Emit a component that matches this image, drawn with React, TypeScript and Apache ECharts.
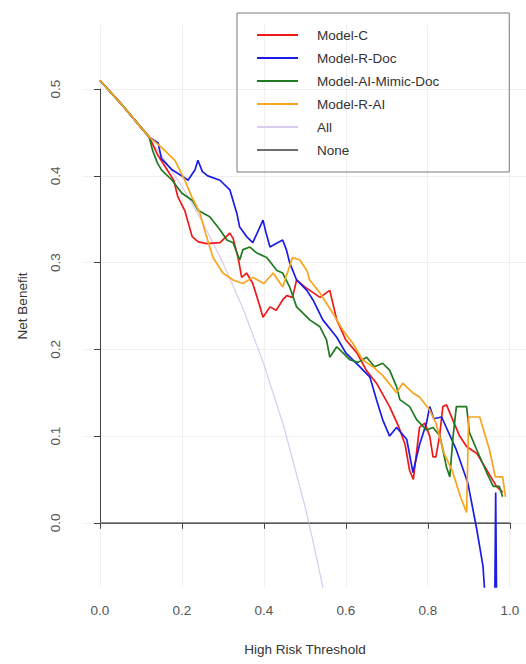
import React, { useEffect, useRef } from "react";
import * as echarts from "echarts";

const seriesNames = ["Model-C", "Model-R-Doc", "Model-AI-Mimic-Doc", "Model-R-AI", "All", "None"];
const seriesColors = ["#f01818", "#1c1ce8", "#1f7a22", "#f7a51e", "#d9cbee", "#6e6e6e"];
const xTicks = [0, 0.2, 0.4, 0.6, 0.8, 1.0];
const yTicks = [0, 0.1, 0.2, 0.3, 0.4, 0.5];
const xTitle = "High Risk Threshold";
const yTitle = "Net Benefit";

const modelC: number[][] = [
  [0, 0.51], [0.05, 0.484], [0.1, 0.456], [0.12, 0.445], [0.14, 0.425], [0.16, 0.41], [0.18, 0.395],
  [0.19, 0.376], [0.207, 0.36], [0.225, 0.33], [0.24, 0.324], [0.26, 0.322], [0.293, 0.323], [0.317, 0.334],
  [0.325, 0.328], [0.337, 0.306], [0.346, 0.283], [0.358, 0.288], [0.373, 0.276], [0.39, 0.25], [0.398, 0.237],
  [0.415, 0.249], [0.43, 0.245], [0.446, 0.257], [0.456, 0.262], [0.47, 0.26], [0.48, 0.28], [0.5, 0.272],
  [0.537, 0.26], [0.561, 0.268], [0.578, 0.234], [0.6, 0.211], [0.627, 0.196], [0.65, 0.176], [0.675, 0.161],
  [0.707, 0.134], [0.73, 0.11], [0.745, 0.09], [0.756, 0.06], [0.765, 0.05], [0.78, 0.11], [0.793, 0.115],
  [0.805, 0.1], [0.813, 0.076], [0.82, 0.076], [0.829, 0.1], [0.837, 0.134], [0.846, 0.136], [0.861, 0.119],
  [0.878, 0.1], [0.895, 0.088], [0.92, 0.08], [0.944, 0.061], [0.968, 0.042], [0.983, 0.035]
];
const modelRDoc: number[][] = [
  [0, 0.51], [0.05, 0.484], [0.1, 0.456], [0.12, 0.445], [0.142, 0.438], [0.15, 0.42], [0.176, 0.407],
  [0.2, 0.4], [0.215, 0.395], [0.232, 0.407], [0.239, 0.418], [0.25, 0.405], [0.263, 0.4], [0.293, 0.395],
  [0.317, 0.384], [0.334, 0.357], [0.341, 0.341], [0.358, 0.33], [0.373, 0.323], [0.398, 0.349], [0.405, 0.335],
  [0.415, 0.318], [0.43, 0.322], [0.446, 0.326], [0.455, 0.315], [0.463, 0.3], [0.48, 0.28], [0.505, 0.268],
  [0.52, 0.257], [0.544, 0.234], [0.578, 0.214], [0.6, 0.196], [0.634, 0.18], [0.659, 0.168], [0.675, 0.142],
  [0.69, 0.119], [0.707, 0.1], [0.724, 0.11], [0.749, 0.096], [0.764, 0.058], [0.78, 0.09], [0.797, 0.115],
  [0.805, 0.134], [0.815, 0.12], [0.834, 0.122], [0.87, 0.084], [0.898, 0.046], [0.92, -0.008], [0.935, -0.05],
  [0.945, -0.12], [0.962, -0.2], [0.966, 0.035], [0.97, -0.2]
];
const modelAIMimicDoc: number[][] = [
  [0, 0.51], [0.05, 0.484], [0.1, 0.456], [0.12, 0.445], [0.128, 0.43], [0.14, 0.415], [0.15, 0.407], [0.176, 0.395],
  [0.2, 0.38], [0.225, 0.372], [0.24, 0.36], [0.268, 0.353], [0.293, 0.338], [0.31, 0.326], [0.325, 0.323],
  [0.341, 0.303], [0.349, 0.315], [0.366, 0.318], [0.383, 0.311], [0.407, 0.306], [0.432, 0.291], [0.446, 0.288],
  [0.463, 0.272], [0.48, 0.249], [0.495, 0.242], [0.512, 0.234], [0.537, 0.226], [0.553, 0.211], [0.561, 0.191],
  [0.578, 0.203], [0.595, 0.195], [0.61, 0.188], [0.63, 0.185], [0.651, 0.191], [0.67, 0.18], [0.69, 0.184],
  [0.707, 0.176], [0.724, 0.157], [0.732, 0.142], [0.756, 0.134], [0.773, 0.119], [0.797, 0.107], [0.813, 0.11],
  [0.83, 0.1], [0.846, 0.064], [0.854, 0.053], [0.862, 0.1], [0.87, 0.134], [0.895, 0.134], [0.902, 0.104],
  [0.92, 0.084], [0.944, 0.058], [0.96, 0.042], [0.975, 0.042], [0.983, 0.03]
];
const modelRAI: number[][] = [
  [0, 0.51], [0.05, 0.484], [0.1, 0.456], [0.12, 0.445], [0.15, 0.433], [0.183, 0.418], [0.207, 0.395],
  [0.225, 0.375], [0.244, 0.357], [0.26, 0.33], [0.276, 0.306], [0.3, 0.288], [0.325, 0.28], [0.349, 0.276],
  [0.373, 0.283], [0.4, 0.276], [0.423, 0.288], [0.446, 0.272], [0.47, 0.306], [0.488, 0.303], [0.505, 0.291],
  [0.512, 0.28], [0.537, 0.265], [0.568, 0.242], [0.593, 0.222], [0.617, 0.207], [0.641, 0.188], [0.666, 0.18],
  [0.69, 0.17], [0.724, 0.15], [0.739, 0.161], [0.763, 0.15], [0.78, 0.145], [0.805, 0.13], [0.82, 0.115],
  [0.84, 0.08], [0.86, 0.06], [0.88, 0.03], [0.895, 0.012], [0.9, 0.122], [0.927, 0.122], [0.951, 0.084],
  [0.965, 0.053], [0.983, 0.053], [0.99, 0.03]
];
const treatAll: number[][] = [
  [0, 0.51], [0.05, 0.484], [0.1, 0.456], [0.15, 0.424], [0.2, 0.388], [0.25, 0.347], [0.3, 0.3],
  [0.35, 0.246], [0.4, 0.183], [0.45, 0.109], [0.5, 0.02], [0.52, -0.021], [0.54, -0.065], [0.56, -0.113]
];
const treatNone: number[][] = [[0, 0], [1, 0]];

const seriesData = [modelC, modelRDoc, modelAIMimicDoc, modelRAI, treatAll, treatNone];

export default function App() {
  const ref = useRef<HTMLDivElement>(null);
  useEffect(() => {
    if (!ref.current) return;
    const chart = echarts.init(ref.current, null, { renderer: "svg" });
    const font = "Liberation Sans, Arial, sans-serif";
    const plot = { left: 83.6, top: 25, width: 442.8, height: 562 };
    const xUsr = [-0.04, 1.04];
    const yUsr = [-0.074, 0.574];
    const xToPx = (v: number) => plot.left + ((v - xUsr[0]) / (xUsr[1] - xUsr[0])) * plot.width;
    const yToPx = (v: number) => plot.top + ((yUsr[1] - v) / (yUsr[1] - yUsr[0])) * plot.height;
    const inner = {
      left: xToPx(0),
      top: yToPx(0.5),
      width: xToPx(1) - xToPx(0),
      height: yToPx(0) - yToPx(0.5),
    };
    const axisColor = "#444";
    const gridColor = "#efefef";
    chart.setOption({
      animation: false,
      backgroundColor: "#ffffff",
      grid: [
        { left: plot.left, top: plot.top, width: plot.width, height: plot.height },
        { left: inner.left, top: inner.top, width: inner.width, height: inner.height },
      ],
      xAxis: [
        {
          gridIndex: 0, type: "value", min: xUsr[0], max: xUsr[1],
          axisLine: { show: false },
          axisTick: { show: false, customValues: xTicks },
          axisLabel: { show: false, customValues: xTicks },
          splitLine: { show: true, lineStyle: { color: gridColor, width: 1 } },
        },
        {
          gridIndex: 1, type: "value", min: 0, max: 1, interval: 0.2,
          offset: plot.top + plot.height - (inner.top + inner.height),
          axisLine: { show: true, lineStyle: { color: axisColor, width: 1 } },
          axisTick: { show: true, inside: false, length: 6, lineStyle: { color: axisColor } },
          axisLabel: { margin: 16, fontSize: 13.5, color: "#555", fontFamily: font, formatter: (v: number) => v.toFixed(1) },
          splitLine: { show: false },
          name: xTitle, nameLocation: "middle", nameGap: 55,
          nameTextStyle: { fontSize: 13.5, color: "#333", fontFamily: font },
        },
      ],
      yAxis: [
        {
          gridIndex: 0, type: "value", min: yUsr[0], max: yUsr[1],
          axisLine: { show: false },
          axisTick: { show: false, customValues: yTicks },
          axisLabel: { show: false, customValues: yTicks },
          splitLine: { show: true, lineStyle: { color: gridColor, width: 1 } },
        },
        {
          gridIndex: 1, type: "value", min: 0, max: 0.5, interval: 0.1,
          offset: inner.left - plot.left,
          axisLine: { show: true, lineStyle: { color: axisColor, width: 1 } },
          axisTick: { show: true, inside: false, length: 6, lineStyle: { color: axisColor } },
          axisLabel: { margin: 21, rotate: 90, fontSize: 13.5, color: "#555", fontFamily: font, formatter: (v: number) => v.toFixed(1) },
          splitLine: { show: false },
          name: yTitle, nameLocation: "middle", nameGap: 54,
          nameTextStyle: { fontSize: 13.5, color: "#333", fontFamily: font },
        },
      ],
      legend: {
        orient: "vertical",
        left: 237, top: 13,
        padding: [15, 70, 15, 20],
        itemWidth: 41, itemHeight: 2, itemGap: 9,
        icon: "rect",
        borderColor: "#7a7a7a", borderWidth: 1,
        selectedMode: false,
        textStyle: { fontSize: 13.5, lineHeight: 14, color: "#333", fontFamily: font, padding: [0, 0, 0, 14] },
        data: seriesNames,
      },
      series: seriesNames.map((name, i) => ({
        name,
        type: "line",
        xAxisIndex: 0,
        yAxisIndex: 0,
        data: seriesData[i],
        symbol: "none",
        clip: true,
        lineStyle: { color: seriesColors[i], width: i >= 4 ? 1.2 : 1.7 },
        itemStyle: { color: seriesColors[i] },
        z: i >= 4 ? 1 : 2,
      })),
    });
    return () => chart.dispose();
  }, []);
  return (
    <div
      ref={ref}
      style={{ position: "fixed", left: 0, top: 0, width: 526, height: 664, background: "#fff" }}
    />
  );
}
